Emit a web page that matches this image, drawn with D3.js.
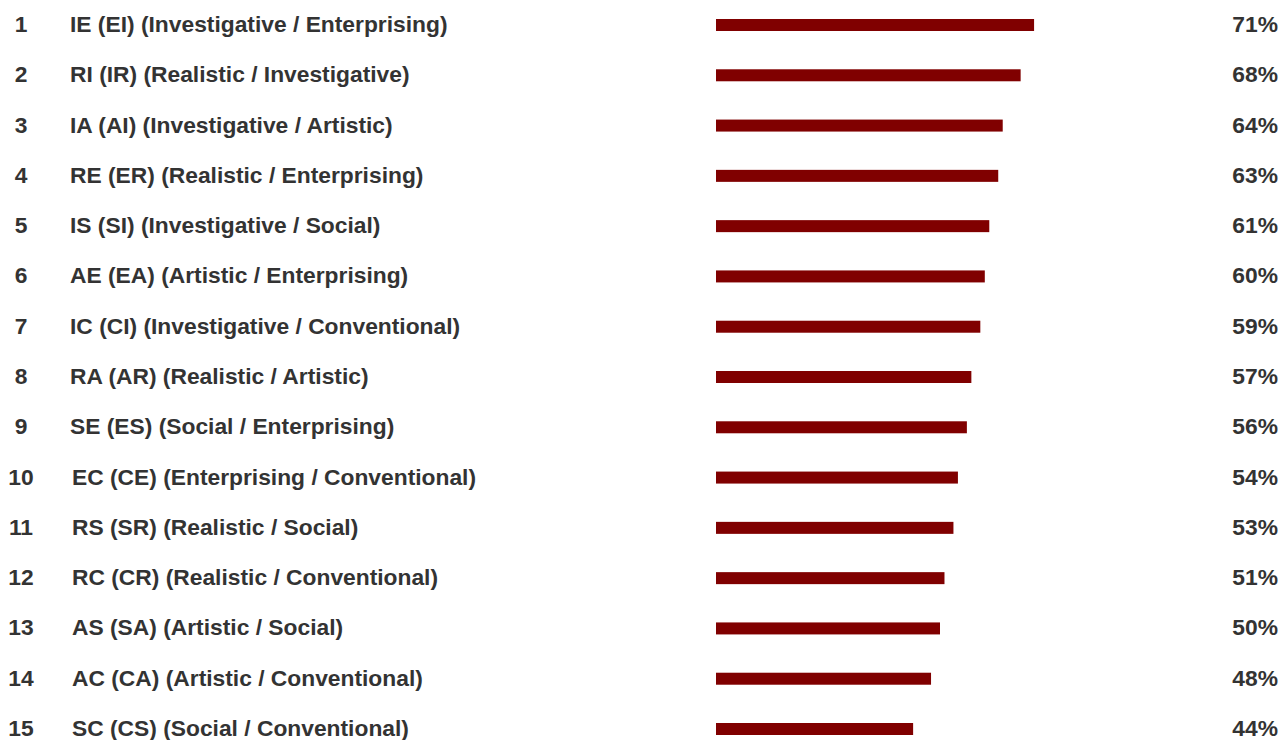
<!DOCTYPE html>
<html>
<head>
<meta charset="utf-8">
<script src="https://cdn.jsdelivr.net/npm/d3@7"></script>
<style>
  body { margin: 0; background: #fff; }
  svg text { font-family: "Liberation Sans", Arial, Helvetica, sans-serif; font-weight: bold; fill: #333; }
</style>
</head>
<body>
<figure id="chart" style="margin:0"></figure>
<script>
// RIASEC pair ranking
const ranks = [1, 2, 3, 4, 5, 6, 7, 8, 9, 10, 11, 12, 13, 14, 15];
const labels = [
  "IE (EI) (Investigative / Enterprising)",
  "RI (IR) (Realistic / Investigative)",
  "IA (AI) (Investigative / Artistic)",
  "RE (ER) (Realistic / Enterprising)",
  "IS (SI) (Investigative / Social)",
  "AE (EA) (Artistic / Enterprising)",
  "IC (CI) (Investigative / Conventional)",
  "RA (AR) (Realistic / Artistic)",
  "SE (ES) (Social / Enterprising)",
  "EC (CE) (Enterprising / Conventional)",
  "RS (SR) (Realistic / Social)",
  "RC (CR) (Realistic / Conventional)",
  "AS (SA) (Artistic / Social)",
  "AC (CA) (Artistic / Conventional)",
  "SC (CS) (Social / Conventional)"
];
const values = [71, 68, 64, 63, 61, 60, 59, 57, 56, 54, 53, 51, 50, 48, 44];

const width = 1285;
const height = 740;
const barStart = 716;
const barHeight = 12;
const fontSize = "22.8px";

const data = ranks.map((r, i) => ({ rank: r, label: labels[i], value: values[i] }));

const svg = d3.select("#chart")
  .append("svg")
  .attr("width", width)
  .attr("height", height);

const x = d3.scaleLinear()
  .domain([0, 100])
  .range([barStart, barStart + 448]);

const y = d3.scalePoint()
  .domain(ranks)
  .range([25, 729]);

const row = svg.selectAll("g.row")
  .data(data)
  .enter()
  .append("g")
  .attr("class", "row")
  .attr("transform", d => "translate(0," + y(d.rank) + ")");

row.append("text")
  .attr("x", 21)
  .attr("y", 7)
  .attr("text-anchor", "middle")
  .style("font-size", fontSize)
  .text(d => d.rank);

row.append("text")
  .attr("x", d => d.rank < 10 ? 70 : 72)
  .attr("y", 7)
  .style("font-size", fontSize)
  .text(d => d.label);

row.append("rect")
  .attr("x", x(0))
  .attr("y", -barHeight / 2)
  .attr("width", d => x(d.value) - x(0))
  .attr("height", barHeight)
  .attr("fill", "#800000");

row.append("text")
  .attr("x", 1278)
  .attr("y", 7)
  .attr("text-anchor", "end")
  .style("font-size", fontSize)
  .text(d => d.value + "%");
</script>
</body>
</html>
